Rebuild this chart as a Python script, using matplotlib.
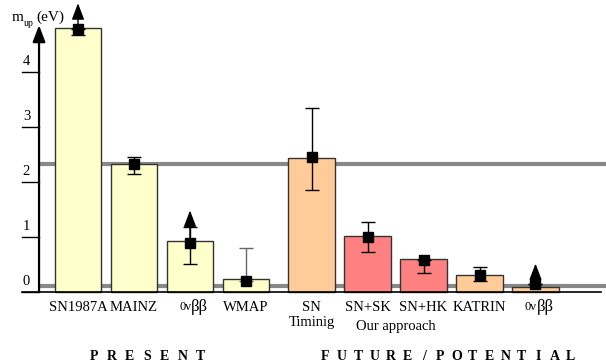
import matplotlib.pyplot as plt
import numpy as np

plt.rcParams['font.family'] = ['Liberation Serif', 'DejaVu Serif']

# data (m_up in eV)
labels = ["SN1987A", "MAINZ", "0νββ", "WMAP", "SN\nTiminig", "SN+SK", "SN+HK", "KATRIN", "0νββ"]
xpos = [0, 1, 2, 3, 4.17, 5.17, 6.17, 7.17, 8.17]
bar_top = [4.81, 2.32, 0.93, 0.23, 2.43, 1.01, 0.59, 0.31, 0.09]
point = [4.79, 2.32, 0.89, 0.20, 2.46, 0.99, 0.575, 0.31, 0.137]
err_low = [4.68, 2.14, 0.50, 0.20, 1.86, 0.72, 0.34, 0.19, 0.137]
err_high = [4.79, 2.46, 1.18, 0.80, 3.35, 1.26, 0.575, 0.44, 0.137]
arrow_tip = [5.26, None, 1.48, None, None, None, None, None, 0.51]
colors = ["#FFFFCC"] * 4 + ["#FFCC99", "#FF8080", "#FF8080", "#FFCC99", "#FFCC99"]
bounds = [2.33, 0.10]

fig = plt.figure(figsize=(6.06, 3.62), dpi=100)
ax = fig.add_axes([0, 0, 1, 1])
ax.set_xlim(-1.393, 9.429)
ax.set_ylim(-1.286, 5.319)
ax.axis("off")

# grey reference lines
for b in bounds:
    ax.plot([-0.68, 9.43], [b, b], color="#888888", lw=3, zorder=1, solid_capstyle="butt")

# bars
ax.bar(xpos, bar_top, width=0.83, color=colors, edgecolor="#333333", lw=1, zorder=2)

# error bars
lo = np.array(point) - np.array(err_low)
hi = np.array(err_high) - np.array(point)
ecol = ["black"] * 9
ecol[3] = "#666666"
for i in range(len(xpos)):
    ax.errorbar(xpos[i], point[i], yerr=[[lo[i]], [hi[i]]], fmt="none",
                ecolor=ecol[i], elinewidth=1, capsize=5, capthick=1, zorder=3)
ax.plot(xpos, point, "s", color="black", ms=7.5, zorder=4)

# lower-limit arrows
for x, p, t in zip(xpos, point, arrow_tip):
    if t is not None:
        ax.annotate("", xy=(x, t), xytext=(x, p),
                    arrowprops=dict(arrowstyle="-|>,head_width=0.38,head_length=1.0",
                                    mutation_scale=10, color="black", lw=1,
                                    shrinkA=0, shrinkB=0), zorder=5)

# axes
ax.plot([-1.0, 9.34], [0, 0], color="black", lw=1.2, zorder=5)
ax.annotate("", xy=(-0.696, 4.86), xytext=(-0.696, 0),
            arrowprops=dict(arrowstyle="-|>,head_width=0.38,head_length=1.0",
                            mutation_scale=10, color="black", lw=1.6,
                            shrinkA=0, shrinkB=0))
for t in range(5):
    ax.plot([-1.0, -0.696], [t, t], color="black", lw=1)
    ax.text(-0.92, t + 0.07, str(t), fontsize=10.5, ha="center", va="bottom")

ax.text(-1.18, 4.94, "m", fontsize=11, ha="left", va="baseline")
ax.text(-0.97, 4.85, "up", fontsize=7, ha="left", va="baseline")
ax.text(-0.74, 4.94, "(eV)", fontsize=11, ha="left", va="baseline")

# category labels
for x, lab in zip(xpos, labels):
    if lab == "0νββ":
        ax.text(x + 0.02, -0.17, "0ν", fontsize=9, ha="right", va="top")
        ax.text(x + 0.02, -0.14, "ββ", fontsize=12, ha="left", va="top")
    else:
        ax.text(x, -0.17, lab, fontsize=10.5, ha="center", va="top", linespacing=1.25)
ax.text(5.67, -0.52, "Our approach", fontsize=10.5, ha="center", va="top")

# group titles, letter spaced
for i, ch in enumerate("PRESENT"):
    ax.text(0.28 + i * 0.318, -1.19, ch, fontsize=10, fontweight="bold", ha="center", va="center")
for i, ch in enumerate("FUTURE/POTENTIAL"):
    ax.text(4.42 + i * 0.292, -1.19, ch, fontsize=10, fontweight="bold", ha="center", va="center")

fig.savefig("out.png", dpi=100)
